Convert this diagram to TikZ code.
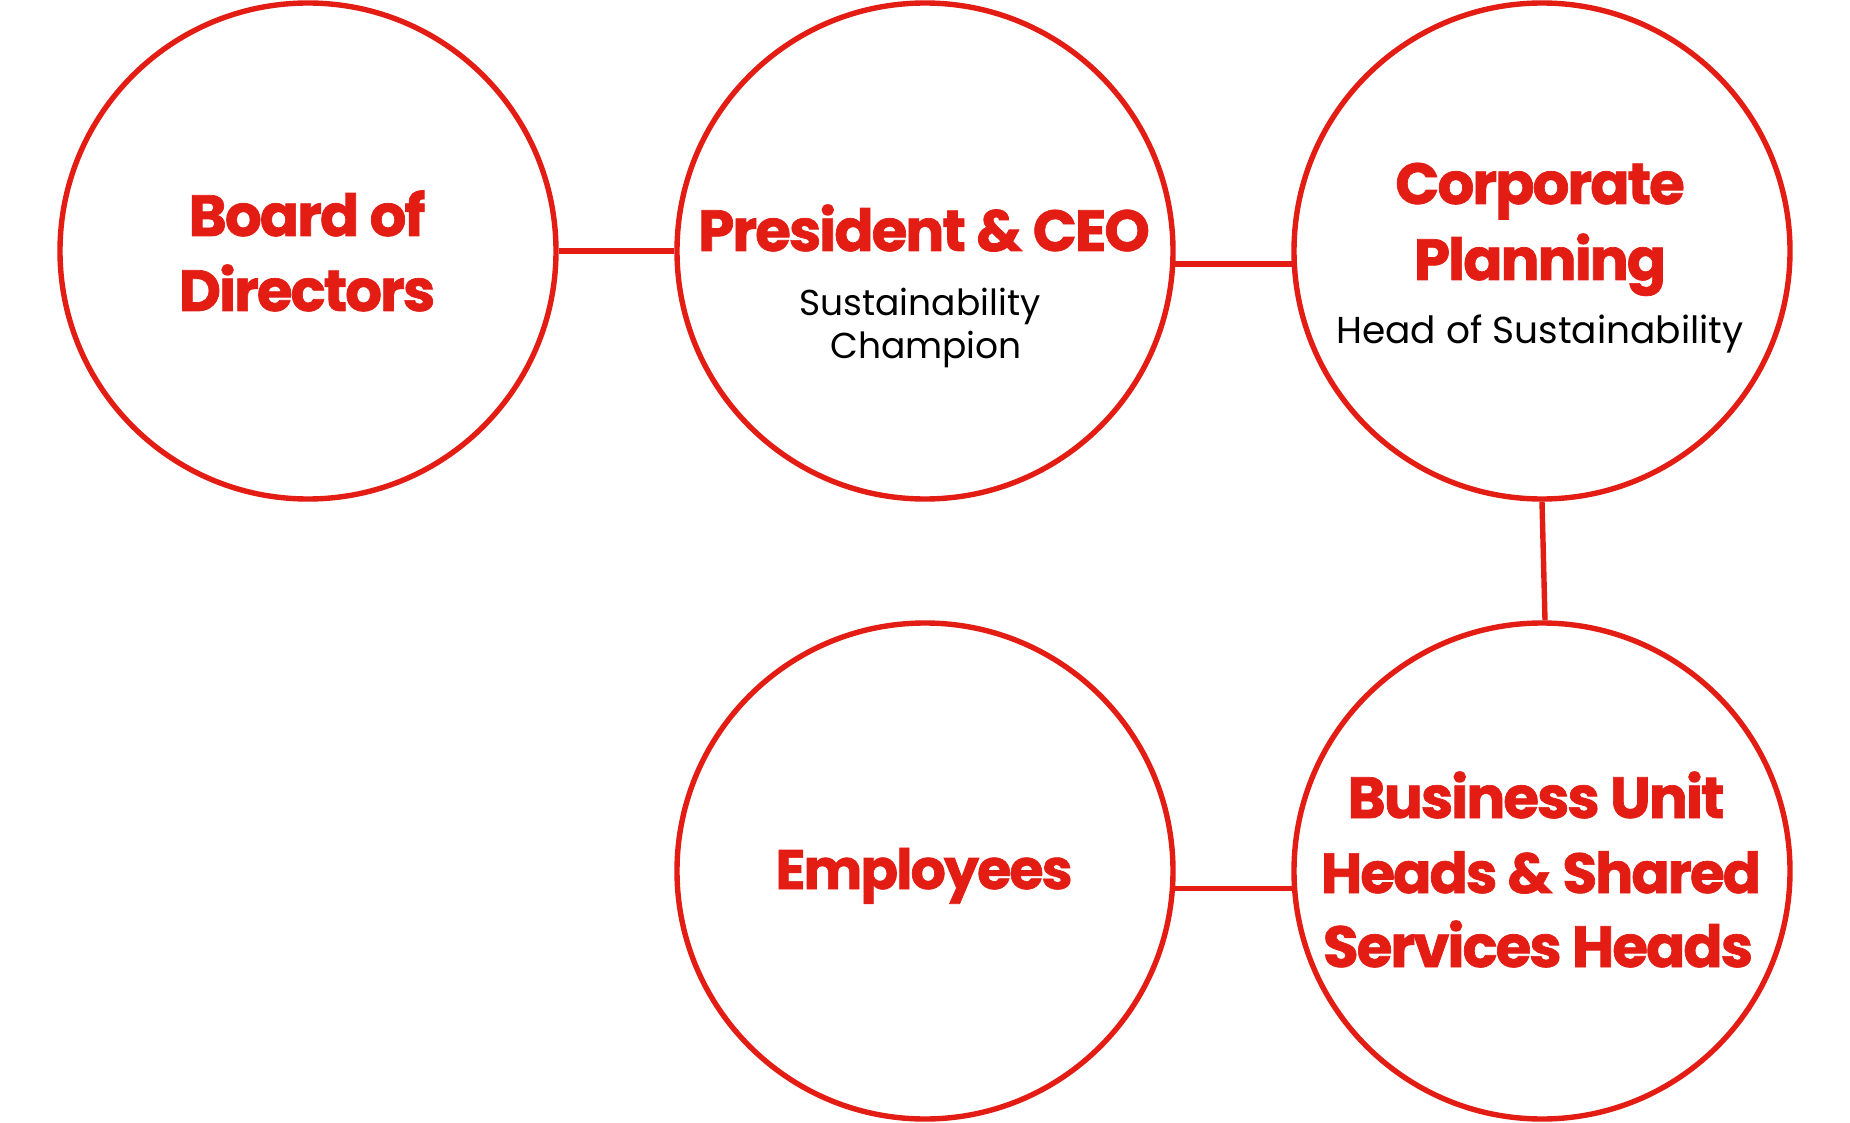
\documentclass[tikz,border=0pt]{standalone}
\usepackage{fontspec}
\setmainfont{Poppins}
\newfontfamily\ttlfont{Poppins}[LetterSpace=-3.5, BoldFeatures={FakeBold=1.2}]
\definecolor{bred}{RGB}{227,28,20}
\tikzset{
  org/.style={circle, draw=bred, line width=5.4pt, minimum size=496pt, inner sep=0pt},
  ttl/.style={anchor=base, text=bred, inner sep=0pt, font=\ttlfont\fontsize{58}{58}\selectfont\bfseries},
  sub/.style={anchor=base, text=black, inner sep=0pt, font=\fontsize{36}{36}\selectfont},
  link/.style={draw=bred, line width=5.4pt}
}
\begin{document}
\begin{tikzpicture}[x=1pt,y=-1pt]
\useasboundingbox (0,0) rectangle (1850,1123);
% circles
\node[org] (board) at (308,251) {};
\node[org] (pres)  at (925,251) {};
\node[org] (corp)  at (1542,251) {};
\node[org] (emp)   at (925,871) {};
\node[org] (bus)   at (1542,871) {};
% connectors
\draw[link] (board.east) -- (pres.west);
\draw[link] (pres.-3) -- (corp.183);
\draw[link] (corp.south) -- ([xshift=3pt]bus.north);
\draw[link] (emp.-4) -- (bus.184);
% texts
\node[ttl] (boardA) at (307,236) {Board of};
\node[ttl] (boardB) at (307,311) {Directors};
\node[ttl] (presA) at (924,251) {President \& CEO};
\node[sub] (presB) at (920,316) {Sustainability};
\node[sub] (presC) at (926,359) {Champion};
\node[ttl] (corpA) at (1540,204) {Corporate};
\node[ttl] (corpB) at (1540,280) {Planning};
\node[sub, font=\fontsize{37.5}{37.5}\selectfont] (corpC) at (1540,343) {Head of Sustainability};
\node[ttl, font=\ttlfont\fontsize{55.5}{55.5}\selectfont\bfseries] (empA) at (924,889) {Employees};
\node[ttl] (busA) at (1536,818) {Business Unit};
\node[ttl, font=\ttlfont\fontsize{56.5}{56.5}\selectfont\bfseries] (busB) at (1541,893) {Heads \& Shared};
\node[ttl] (busC) at (1538,967) {Services Heads};
\end{tikzpicture}
\end{document}
